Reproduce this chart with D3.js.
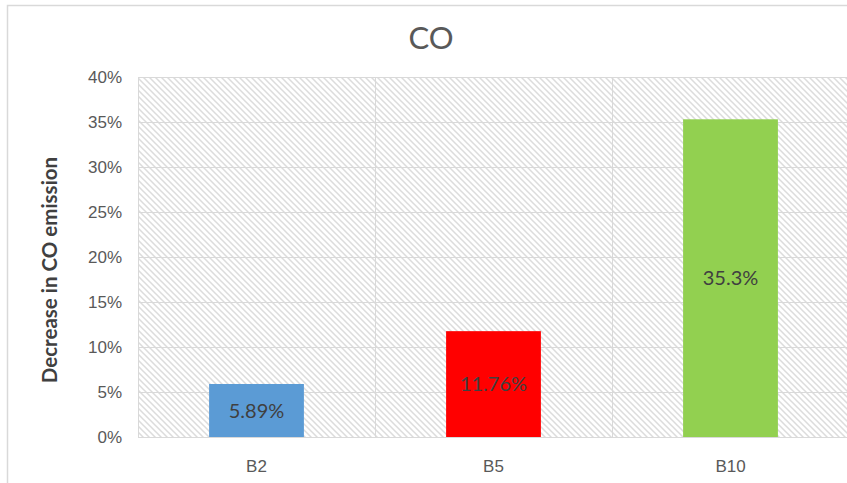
<!DOCTYPE html>
<html>
<head>
<meta charset="utf-8">
<script src="https://cdn.jsdelivr.net/npm/d3@7"></script>
<style>
  html, body { margin: 0; padding: 0; background: #fff; }
  svg { display: block; font-family: Lato, "Open Sans", "Liberation Sans", sans-serif; }
</style>
</head>
<body>
<svg id="chart" width="847" height="483"></svg>
<script>
// Blends and their reduction in CO emission (fraction)
const categories = ["B2", "B5", "B10"];
const values = [0.0589, 0.1176, 0.353];
const valueLabels = ["5.89%", "11.76%", "35.3%"];
const barColors = ["#5b9bd5", "#ff0000", "#92d050"];
const yTicks = [0, 0.05, 0.10, 0.15, 0.20, 0.25, 0.30, 0.35, 0.40];

const svg = d3.select("#chart");
const W = 847, H = 483;
const plot = { left: 138, right: 849, top: 77, bottom: 437 };

// Outer chart frame
svg.append("rect")
  .attr("x", 7.5).attr("y", 5.5)
  .attr("width", W + 10).attr("height", H + 10)
  .attr("fill", "#fff").attr("stroke", "#d9d9d9").attr("stroke-width", 1.5);

// Diagonal hatch for the plot background
const defs = svg.append("defs");
const pat = defs.append("pattern")
  .attr("id", "hatch")
  .attr("patternUnits", "userSpaceOnUse")
  .attr("width", 6).attr("height", 6);
pat.append("rect").attr("width", 6).attr("height", 6).attr("fill", "#fff");
pat.append("path")
  .attr("d", "M-1,-1 L7,7 M-1,5 L1,7 M5,-1 L7,1")
  .attr("stroke", "#dcdcdc").attr("stroke-width", 1.5);

const x = d3.scaleBand()
  .domain(categories)
  .range([plot.left, plot.right])
  .paddingInner(0.6).paddingOuter(0.3);

const xGrid = d3.scaleBand().domain(categories).range([plot.left, plot.right]);

const y = d3.scaleLinear().domain([0, 0.40]).range([plot.bottom, plot.top]);

svg.append("rect")
  .attr("x", plot.left).attr("y", plot.top)
  .attr("width", plot.right - plot.left).attr("height", plot.bottom - plot.top)
  .attr("fill", "url(#hatch)");

// Horizontal gridlines
svg.append("g")
  .selectAll("line")
  .data(yTicks)
  .join("line")
  .attr("x1", plot.left).attr("x2", plot.right)
  .attr("y1", d => Math.round(y(d)) + 0.5).attr("y2", d => Math.round(y(d)) + 0.5)
  .attr("stroke", "#d9d9d9").attr("stroke-width", 1);

// Vertical gridlines at category boundaries
const bounds = categories.map(c => xGrid(c)).concat([plot.right]);
svg.append("g")
  .selectAll("line")
  .data(bounds)
  .join("line")
  .attr("x1", d => Math.round(d) + 0.5).attr("x2", d => Math.round(d) + 0.5)
  .attr("y1", plot.top).attr("y2", plot.bottom)
  .attr("stroke", "#d9d9d9").attr("stroke-width", 1);

// Y axis labels
const yAxis = d3.axisLeft(y)
  .tickValues(yTicks)
  .tickFormat(d3.format(".0%"))
  .tickSize(0).tickPadding(16);
const gy = svg.append("g")
  .attr("transform", `translate(${plot.left},0)`)
  .call(yAxis);
gy.select(".domain").remove();
gy.selectAll("text")
  .attr("fill", "#595959").attr("font-size", 17);

// X axis labels
const xAxis = d3.axisBottom(x).tickSize(0).tickPadding(0);
const gx = svg.append("g")
  .attr("transform", `translate(0,${plot.bottom})`)
  .call(xAxis);
gx.select(".domain")
  .attr("stroke", "#d9d9d9");
gx.selectAll("text")
  .attr("dy", null)
  .attr("y", 35)
  .attr("fill", "#595959").attr("font-size", 17);

// Bars
svg.append("g")
  .selectAll("rect")
  .data(values)
  .join("rect")
  .attr("x", (d, i) => x(categories[i]))
  .attr("width", x.bandwidth())
  .attr("y", d => y(d))
  .attr("height", d => y(0) - y(d))
  .attr("fill", (d, i) => barColors[i]);

// Value labels centred within each bar
svg.append("g")
  .selectAll("text")
  .data(values)
  .join("text")
  .attr("x", (d, i) => x(categories[i]) + x.bandwidth() / 2)
  .attr("y", d => (y(d) + y(0)) / 2)
  .attr("dy", "0.36em")
  .attr("text-anchor", "middle")
  .attr("fill", "#404040")
  .attr("font-size", 20)
  .text((d, i) => valueLabels[i]);

// Title
svg.append("text")
  .attr("x", 431).attr("y", 49)
  .attr("text-anchor", "middle")
  .attr("fill", "#595959")
  .attr("font-size", 31)
  .text("CO");

// Y axis title
svg.append("text")
  .attr("transform", `translate(57,${(plot.top + plot.bottom) / 2 + 13}) rotate(-90)`)
  .attr("text-anchor", "middle")
  .attr("fill", "#404040")
  .attr("font-size", 20.5)
  .attr("font-weight", "bold")
  .text("Decrease in CO emission");
</script>
</body>
</html>
